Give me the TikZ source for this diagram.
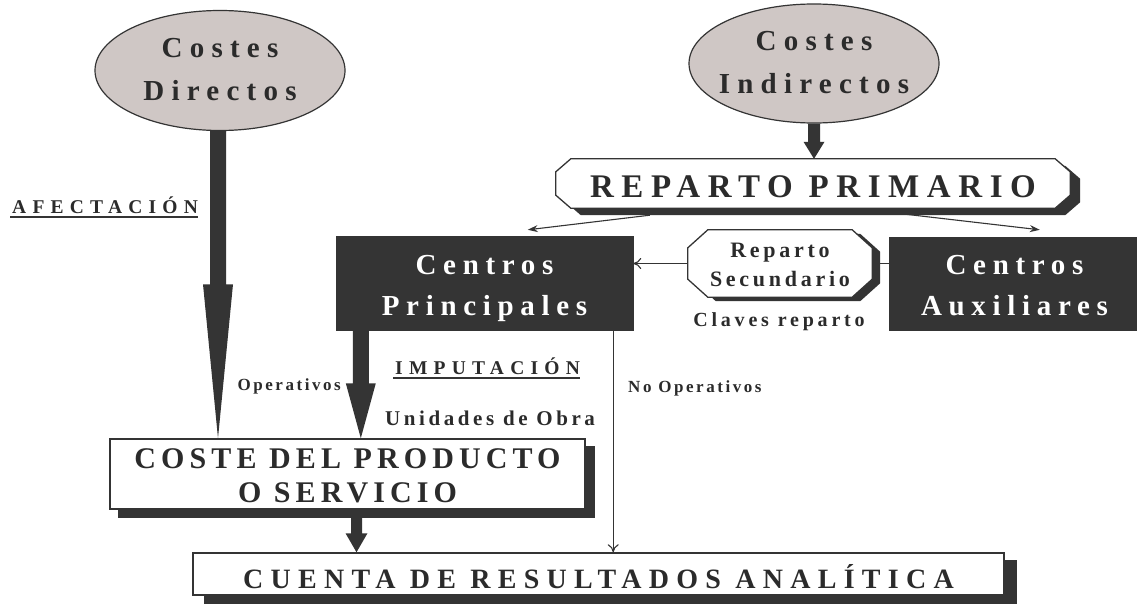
\documentclass[tikz,border=0pt]{standalone}
\usepackage{fontspec}
\setmainfont{Liberation Serif}
\newfontfamily\lsEll[LetterSpace=25]{Liberation Serif}
\newfontfamily\lsRP[LetterSpace=23]{Liberation Serif}
\newfontfamily\lsCen[LetterSpace=23]{Liberation Serif}
\newfontfamily\lsCue[LetterSpace=26]{Liberation Serif}
\newfontfamily\lsCos[LetterSpace=17]{Liberation Serif}
\newfontfamily\lsRS[LetterSpace=17]{Liberation Serif}
\newfontfamily\lsCla[LetterSpace=19]{Liberation Serif}
\newfontfamily\lsUnd[LetterSpace=32]{Liberation Serif}
\newfontfamily\lsOp[LetterSpace=15]{Liberation Serif}
\usetikzlibrary{calc,shapes.geometric,arrows.meta,backgrounds}
\definecolor{dk}{HTML}{343434}
\definecolor{ellfill}{HTML}{CFC7C5}
\definecolor{txt}{HTML}{2B2B2B}
% octagon: node, chamfer x, chamfer y, shift x, shift y, path options
\newcommand\octshape[6]{%
  \path[#6] ($(#1.north west)+(#2+#4,#5)$) -- ($(#1.north east)+(-#2+#4,#5)$)
   -- ($(#1.north east)+(#4,#3+#5)$) -- ($(#1.south east)+(#4,-#3+#5)$)
   -- ($(#1.south east)+(-#2+#4,#5)$) -- ($(#1.south west)+(#2+#4,#5)$)
   -- ($(#1.south west)+(#4,-#3+#5)$) -- ($(#1.north west)+(#4,#3+#5)$) -- cycle;}
% vertical fat arrow: start, end, head length, shaft half width, head half width
\newcommand\fatarrow[5]{%
  \fill[dk] let \p1=(#1), \p2=(#2) in
   (\x1-#4pt,\y1) -- (\x1+#4pt,\y1) -- (\x1+#4pt,\y2+#3pt) -- (\x1+#5pt,\y2+#3pt)
   -- (\x1,\y2) -- (\x1-#5pt,\y2+#3pt) -- (\x1-#4pt,\y2+#3pt) -- cycle;}
\begin{document}
\begin{tikzpicture}[x=1pt,y=-1pt,
  ell/.style={ellipse, draw=dk, line width=1.2pt, fill=ellfill, minimum width=250pt, minimum height=120pt, inner sep=0pt},
  elltext/.style={inner sep=0pt, align=center, text=txt, font=\lsEll\bfseries\fontsize{29}{43}\selectfont, text height=59pt, text depth=0pt},
  darkbox/.style={rectangle, fill=dk, draw=dk, inner sep=0pt},
  darktext/.style={inner sep=0pt, align=center, text=white, font=\lsCen\bfseries\fontsize{29}{41}\selectfont, text depth=0pt},
  whitebox/.style={rectangle, fill=white, draw=dk, line width=1.5pt, inner sep=0pt},
  plainbox/.style={rectangle, inner sep=0pt},
  boxtext/.style={inner sep=0pt, align=center, text=txt, text depth=0pt},
  lbl/.style={inner sep=0pt, text=txt},
  thinarrow/.style={draw=dk, line width=1.1pt, -{Stealth[length=10pt,width=7pt]}},
  openarrow/.style={draw=dk, line width=1.1pt, -{Computer Modern Rightarrow[length=8pt,width=11pt]}},
  uline/.style={draw=dk, line width=2.4pt},
]
\useasboundingbox (0,0) rectangle (1137,605);

% shapes
\node[ell] (cd) at (220,70.5) {};
\node[ell, minimum height=119pt] (ci) at (814,63.5) {};
\node[plainbox, minimum width=514pt, minimum height=49pt] (rp) at (813,183.5) {};
\node[plainbox, minimum width=184pt, minimum height=67pt] (rs) at (780,263.5) {};
\node[darkbox, minimum width=297pt, minimum height=94pt] (cp) at (484.5,283) {};
\node[darkbox, minimum width=251pt, minimum height=93pt] (ca) at (1014.5,283.5) {};
\node[whitebox, minimum width=475pt, minimum height=70pt] (cs) at (347.5,474) {};
\node[whitebox, minimum width=811pt, minimum height=42pt] (cr) at (598.5,574) {};

\begin{scope}[on background layer]
  \fill[white] (0,0) rectangle (1137,605);
  \fill[dk] ($(cs.north west)+(9,8)$) rectangle ($(cs.south east)+(9,8)$);
  \fill[dk] ($(cr.north west)+(12,8)$) rectangle ($(cr.south east)+(12,8)$);
  \octshape{rp}{15}{13}{10}{7}{fill=dk}
  \octshape{rp}{15}{13}{0}{0}{fill=white, draw=dk, line width=1.3pt}
  \octshape{rs}{20}{18}{8}{4}{fill=dk}
  \octshape{rs}{20}{18}{0}{0}{fill=white, draw=dk, line width=1.3pt}
\end{scope}

% texts in shapes
\node[elltext] (cdt) at (cd.center) {Costes\\Directos};
\node[elltext] (cit) at (ci.center) {Costes\\Indirectos};
\node[boxtext, font=\lsRP\bfseries\fontsize{33}{40}\selectfont, text height=27pt] (rpt) at (rp.center) {REPARTO PRIMARIO};
\node[boxtext, font=\lsRS\bfseries\fontsize{22}{29}\selectfont, text height=45pt] (rst) at (rs.center) {Reparto\\Secundario};
\node[darktext, text height=64pt] (cpt) at (cp.center) {Centros\\Principales};
\node[darktext, text height=63pt] (cat) at (ca.center) {Centros\\Auxiliares};
\node[boxtext, font=\lsCos\bfseries\fontsize{30}{34}\selectfont, text height=56pt] (cst) at (cs.center) {COSTE DEL PRODUCTO\\O SERVICIO};
\node[boxtext, font=\lsCue\bfseries\fontsize{28}{30}\selectfont, text height=28pt] (crt) at (cr.center) {CUENTA DE RESULTADOS ANALÍTICA};

% fat arrows
\fatarrow{$(cd.south)+(-2,0)$}{cs.north}{154}{8}{15}
\fatarrow{ci.south}{rp.north}{17}{6}{10.5}
\fatarrow{$(cp.south west)+(25,0)$}{cs.north}{55}{8}{15}
\fatarrow{$(cs.south)+(9,8)$}{cr.north}{19}{5.5}{11}

% thin connectors
\draw[thinarrow] ($(rp.south west)+(94,7)$) -- ($(cp.north west)+(192,-6)$);
\draw[thinarrow] ($(rp.south east)+(-165,6)$) -- ($(ca.north west)+(151,-7)$);
\draw[openarrow] (rs.west) -- (rs.west -| cp.east);
\draw[draw=dk, line width=1.1pt] (rs.east) -- (rs.east -| ca.west);
\draw[openarrow] ($(cp.south east)+(-20,0)$) coordinate (np) -- (np |- cr.north);

% labels
\node[lbl, anchor=base west, font=\lsUnd\bfseries\fontsize{19.5}{20}\selectfont] (afe) at (12,213) {AFECTACIÓN};
\draw[uline] ($(afe.base west)+(-2,4)$) -- ($(afe.base east)+(0,4)$);
\node[lbl, anchor=base west, font=\lsUnd\bfseries\fontsize{19.5}{20}\selectfont] (imp) at (395,374) {IMPUTACIÓN};
\draw[uline] ($(imp.base west)+(-2,4)$) -- ($(imp.base east)+(0,4)$);
\node[lbl, anchor=base east, font=\lsOp\bfseries\fontsize{17}{18}\selectfont] (op) at (341,390) {Operativos};
\node[lbl, anchor=base west, font=\lsOp\bfseries\fontsize{17}{18}\selectfont] (nop) at (628,392) {No Operativos};
\node[lbl, anchor=base west, font=\lsRS\bfseries\fontsize{21}{22}\selectfont] (udo) at (385,425) {Unidades de Obra};
\node[lbl, anchor=base, font=\lsCla\bfseries\fontsize{20}{21}\selectfont] (clv) at (779,326) {Claves reparto};
\end{tikzpicture}
\end{document}
